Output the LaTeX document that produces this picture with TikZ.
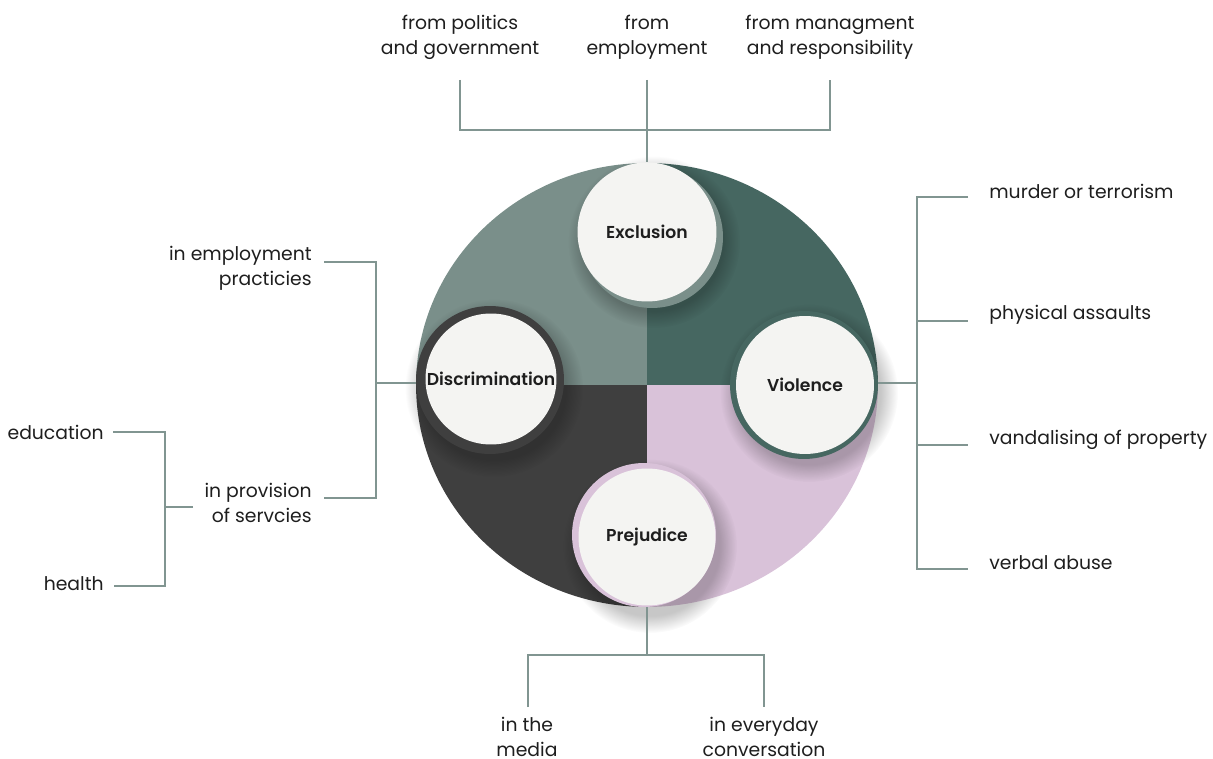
\documentclass[tikz,border=0pt]{standalone}
\usepackage{fontspec}
\setmainfont{Poppins}
\newfontfamily\topicfont{Poppins SemiBold}
\usetikzlibrary{positioning,fadings}

\definecolor{sage}{HTML}{7A8F8A}
\definecolor{pine}{HTML}{466761}
\definecolor{coal}{HTML}{3F3F3F}
\definecolor{lilac}{HTML}{D9C2D9}
\definecolor{chalk}{HTML}{F4F4F2}
\definecolor{wire}{HTML}{819591}
\definecolor{ink}{HTML}{1E1E1E}

\tikzset{
  wire/.style={draw=wire, line width=1.1pt},
  leaf/.style={text=ink, font=\fontsize{10.7}{14.2}\selectfont, align=center, inner sep=0pt},
  topic/.style={circle, fill=chalk, text=ink, inner sep=0pt, font=\topicfont\fontsize{9.8}{12}\selectfont},
  ring/.style={circle, inner sep=0pt},
  halo/.style={fill=black, opacity=0.22, path fading=circle with fuzzy edge 20 percent}
}

\begin{document}
\begin{tikzpicture}[x=0.02cm, y=-0.02cm]
  \useasboundingbox (0,0) rectangle (1213,759);

  % four quarters of the disc
  \begin{scope}
    \clip (647,385) ellipse [x radius=4.62cm, y radius=4.44cm];
    \fill[sage]  (400,150) rectangle (647,385);
    \fill[pine]  (647,150) rectangle (900,385);
    \fill[coal]  (400,385) rectangle (647,620);
    \fill[lilac] (647,385) rectangle (900,620);
  \end{scope}

  % soft shadows under the circles
  \fill[halo] (654,242) circle (1.72cm);
  \fill[halo] (494,388) circle (1.78cm);
  \fill[halo] (809,393) circle (1.78cm);
  \fill[halo] (650,546) circle (1.74cm);

  % rings and circles
  \node[ring, fill=sage, minimum size=2.84cm] (exclusion-ring) at (652,237) {};
  \node[topic, minimum size=2.78cm] (exclusion) at (647,232) {Exclusion};

  \node[ring, fill=coal, minimum size=2.96cm] (discrimination-ring) at (490,380) {};
  \node[topic, minimum size=2.62cm] (discrimination) at (491,379) {Discrimination};

  \node[ring, fill=pine, minimum size=2.96cm] (violence-ring) at (804,385) {};
  \node[topic, minimum size=2.76cm] (violence) at (805,385) {Violence};

  \node[ring, fill=lilac, minimum size=2.88cm] (prejudice-ring) at (644,535) {};
  \node[topic, minimum size=2.74cm] (prejudice) at (647,537) {Prejudice};

  % exclusion
  \node[leaf] (politics) at (460,37) {from politics\\and government};
  \node[leaf] (employment) at (647,37) {from\\employment};
  \node[leaf] (management) at (830,37) {from managment\\and responsibility};
  \coordinate (politics-end) at (460,80);
  \coordinate (employment-end) at (647,80);
  \coordinate (management-end) at (830,80);
  \coordinate (top-bus) at (647,130);
  \draw[wire] (politics-end) |- (top-bus) -| (management-end);
  \draw[wire] (employment-end) -- (exclusion.north);

  % violence
  \node[leaf, anchor=west] (murder) at (989,191) {murder or terrorism};
  \node[leaf, anchor=west] (assault) at (989,315) {physical assaults};
  \node[leaf, anchor=west] (vandalism) at (989,440) {vandalising of property};
  \node[leaf, anchor=west] (abuse) at (989,563) {verbal abuse};
  \coordinate (right-bus) at (917,383);
  \coordinate (murder-tip) at (968,197);
  \coordinate (assault-tip) at (968,321);
  \coordinate (vandalism-tip) at (968,445);
  \coordinate (abuse-tip) at (968,569);
  \draw[wire] (violence-ring.east |- right-bus) -- (right-bus);
  \draw[wire] (murder-tip) -| (right-bus) |- (abuse-tip);
  \draw[wire] (right-bus |- assault-tip) -- (assault-tip);
  \draw[wire] (right-bus |- vandalism-tip) -- (vandalism-tip);

  % discrimination
  \node[leaf, align=right, anchor=east] (practice) at (312,268) {in employment\\practicies};
  \node[leaf, align=right, anchor=east] (provision) at (312,503) {in provision\\of servcies};
  \coordinate (left-bus) at (376,383);
  \coordinate (practice-tip) at (324,262);
  \coordinate (provision-tip) at (324,498);
  \draw[wire] (discrimination-ring.west |- left-bus) -- (left-bus);
  \draw[wire] (practice-tip) -| (left-bus) |- (provision-tip);

  % services
  \node[leaf, anchor=east] (education) at (104,432) {education};
  \node[leaf, anchor=east] (health) at (104,584) {health};
  \coordinate (service-bus) at (165,507);
  \coordinate (education-tip) at (113,432);
  \coordinate (health-tip) at (114,586);
  \draw[wire] (provision.west |- service-bus) ++(-0.22cm,0) -- (service-bus);
  \draw[wire] (education-tip) -| (service-bus) |- (health-tip);

  % prejudice
  \node[leaf] (media) at (527,737) {in the\\media};
  \node[leaf] (conversation) at (764,737) {in everyday\\conversation};
  \coordinate (bottom-bus) at (647,655);
  \coordinate (media-end) at (528,707);
  \coordinate (conversation-end) at (764,707);
  \draw[wire] (prejudice-ring.south -| bottom-bus) -- (bottom-bus);
  \draw[wire] (media-end) |- (bottom-bus) -| (conversation-end);
\end{tikzpicture}
\end{document}
